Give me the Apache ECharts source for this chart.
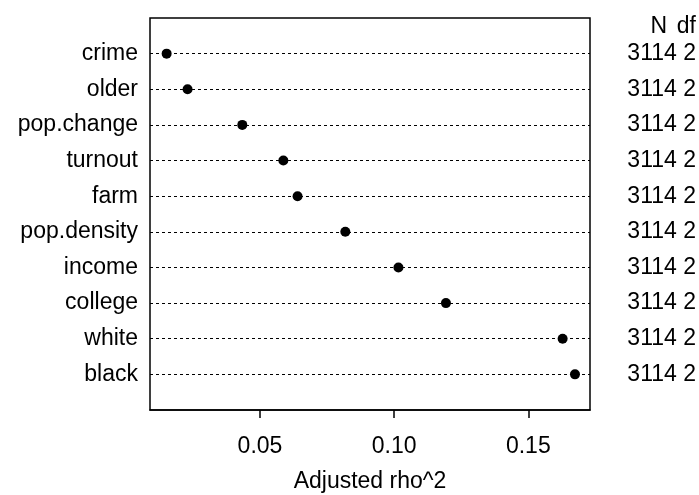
<!DOCTYPE html>
<html>
<head>
<meta charset="utf-8">
<script src="https://cdn.jsdelivr.net/npm/echarts@6/dist/echarts.min.js"></script>
<style>
  html, body { margin: 0; padding: 0; background: #fff; }
  #chart { width: 699px; height: 495px; }
</style>
</head>
<body>
<div id="chart"></div>
<script>
// rows listed bottom to top
const variables = ['black', 'white', 'college', 'income', 'pop.density', 'farm', 'turnout', 'pop.change', 'older', 'crime']
const adjRho2 = [0.1674, 0.1628, 0.1193, 0.1016, 0.0818, 0.0640, 0.0587, 0.0434, 0.0230, 0.0152]
const nCounts = [3114, 3114, 3114, 3114, 3114, 3114, 3114, 3114, 3114, 3114]
const dfs = [2, 2, 2, 2, 2, 2, 2, 2, 2, 2]
const xTicks = [0.05, 0.10, 0.15]

const font = 'Liberation Sans, Arial, Helvetica, sans-serif'
const fontSize = 23
const rowPos = variables.map((v, i) => i + 1)

const chart = echarts.init(document.getElementById('chart'))
chart.setOption({
  animation: false,
  textStyle: { fontFamily: font },
  grid: {
    left: 150,
    right: 109,
    top: 18,
    bottom: 85,
    outerBoundsMode: 'none',
    containLabel: false,
    show: true,
    borderColor: '#000',
    borderWidth: 1.5
  },
  xAxis: {
    type: 'value',
    min: 0.009,
    max: 0.173,
    name: 'Adjusted rho^2',
    nameLocation: 'middle',
    nameGap: 60,
    nameTextStyle: { color: '#000', fontSize: fontSize, fontFamily: font },
    axisLine: { show: true, lineStyle: { color: '#000', width: 1.5 } },
    axisTick: {
      show: true,
      length: 8,
      customValues: xTicks,
      lineStyle: { color: '#000', width: 1.5 }
    },
    axisLabel: {
      customValues: xTicks,
      margin: 25,
      color: '#000',
      fontSize: fontSize,
      fontFamily: font,
      formatter: v => v.toFixed(2)
    },
    splitLine: { show: false }
  },
  yAxis: [
    {
      type: 'value',
      min: 0,
      max: 11,
      axisLine: { show: false },
      axisTick: { show: false },
      splitLine: { show: false },
      axisLabel: {
        customValues: rowPos,
        margin: 12,
        color: '#000',
        fontSize: fontSize,
        fontFamily: font,
        formatter: v => variables[v - 1]
      }
    },
    {
      type: 'value',
      position: 'right',
      min: 0,
      max: 11,
      axisLine: { show: false },
      axisTick: { show: false },
      splitLine: { show: false },
      axisLabel: {
        customValues: rowPos,
        margin: 106,
        align: 'right',
        color: '#000',
        fontSize: fontSize,
        fontFamily: font,
        formatter: v => nCounts[v - 1] + ' ' + dfs[v - 1]
      }
    }
  ],
  graphic: [
    {
      type: 'text',
      right: 32,
      top: 15,
      style: { text: 'N', fill: '#000', font: fontSize + 'px ' + font }
    },
    {
      type: 'text',
      right: 3,
      top: 15,
      style: { text: 'df', fill: '#000', font: fontSize + 'px ' + font }
    }
  ],
  series: [
    {
      type: 'scatter',
      symbol: 'circle',
      symbolSize: 10,
      itemStyle: { color: '#000', opacity: 1 },
      data: adjRho2.map((v, i) => [v, rowPos[i]]),
      z: 5,
      markLine: {
        silent: true,
        symbol: 'none',
        label: { show: false },
        lineStyle: { color: '#000', width: 1, type: [3, 3], opacity: 1 },
        data: rowPos.map(p => ({ yAxis: p }))
      }
    }
  ]
})
</script>
</body>
</html>
